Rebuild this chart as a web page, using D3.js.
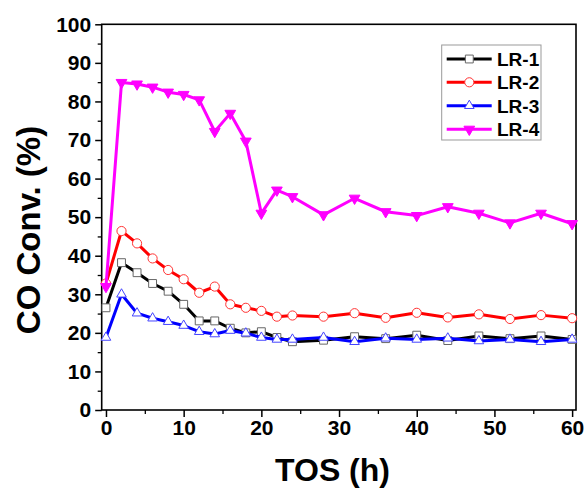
<!DOCTYPE html>
<html><head><meta charset="utf-8">
<script src="https://cdn.jsdelivr.net/npm/d3@7"></script>
<style>body{margin:0;background:#fff}svg{display:block}text{font-family:"Liberation Sans",Arial,sans-serif;font-weight:bold}</style>
</head><body>
<svg id="c" width="588" height="489"></svg>
<script>
const time = [0,2,4,6,8,10,12,14,16,18,20,22,24,28,32,36,40,44,48,52,56,60];
const lr1 = [26.5,38.2,35.6,32.8,30.8,27.4,23.1,23.1,21.2,20.0,20.3,18.8,17.7,18.1,19.0,18.5,19.4,18.0,19.2,18.5,19.2,18.3];
const lr2 = [32.8,46.4,43.2,39.3,36.3,33.9,30.4,32.0,27.4,26.5,25.7,24.2,24.5,24.2,25.1,23.9,25.2,24.0,24.8,23.6,24.6,23.8];
const lr3 = [18.8,30.0,25.1,23.8,22.9,21.9,20.3,19.7,20.6,19.9,18.8,18.3,18.3,18.8,17.7,18.6,18.3,18.6,17.9,18.3,17.7,18.3];
const lr4 = [32.0,84.9,84.5,83.7,82.4,81.8,80.4,72.2,76.9,69.7,51.0,57.0,55.3,50.6,54.9,51.4,50.4,52.7,51.0,48.5,51.0,48.3];
const seriesNames = ["LR-1","LR-2","LR-3","LR-4"];
const xTicks = [0,10,20,30,40,50,60];
const yTicks = [0,10,20,30,40,50,60,70,80,90,100];

const svg = d3.select("#c");
const L=101.7, R=576, T=24.3, B=410;
const x = d3.scaleLinear().domain([-0.55,60.5]).range([L,R]);
const y = d3.scaleLinear().domain([0,100]).range([B,T]);

svg.append("rect").attr("x",L).attr("y",T).attr("width",R-L).attr("height",B-T)
  .attr("fill","none").attr("stroke","#000").attr("stroke-width",1.6);

const yMinor = d3.range(5,100,10);
svg.append("g").attr("transform",`translate(${L},0)`)
  .call(d3.axisLeft(y).tickValues(yMinor).tickSize(4).tickFormat("").tickSizeOuter(0))
  .call(g=>{g.select(".domain").remove();g.selectAll("line").attr("stroke-width",1.3);});
const xMinor = d3.range(5,60,10);
svg.append("g").attr("transform",`translate(0,${B})`)
  .call(d3.axisBottom(x).tickValues(xMinor).tickSize(4).tickFormat("").tickSizeOuter(0))
  .call(g=>{g.select(".domain").remove();g.selectAll("line").attr("stroke-width",1.3);});

svg.append("g").attr("transform",`translate(${L},0)`)
  .call(d3.axisLeft(y).tickValues(yTicks).tickSize(6.5).tickPadding(4).tickSizeOuter(0))
  .call(g=>{g.select(".domain").remove();g.selectAll("line").attr("stroke-width",1.5);
    g.selectAll("text").attr("font-size",21).attr("fill","#000").attr("font-family","Liberation Sans, Arial, sans-serif").attr("font-weight","bold");});
svg.append("g").attr("transform",`translate(0,${B})`)
  .call(d3.axisBottom(x).tickValues(xTicks).tickSize(7).tickPadding(3).tickSizeOuter(0))
  .call(g=>{g.select(".domain").remove();g.selectAll("line").attr("stroke-width",1.5);
    g.selectAll("text").attr("font-size",21).attr("fill","#000").attr("font-family","Liberation Sans, Arial, sans-serif").attr("font-weight","bold");});

svg.append("text").attr("x",332.5).attr("y",481).attr("text-anchor","middle")
  .attr("font-size",32).text("TOS (h)");
svg.append("text").attr("transform","translate(40,230) rotate(-90)").attr("text-anchor","middle")
  .attr("font-size",33).text("CO Conv. (%)");

const styles = [
  {vals:lr1,color:"#000",type:d3.symbolSquare,size:62,fill:"#fff",mstroke:"#666",rot:0},
  {vals:lr2,color:"#ff0000",type:d3.symbolCircle,size:66,fill:"#fff",mstroke:"#ff3333",rot:0},
  {vals:lr3,color:"#0000ff",type:d3.symbolTriangle,size:40,fill:"#fff",mstroke:"#4444ff",rot:0},
  {vals:lr4,color:"#ff00ff",type:d3.symbolTriangle,size:50,fill:"#ff00ff",mstroke:"#ff00ff",rot:180}
];
const line = d3.line().x(d=>x(d[0])).y(d=>y(d[1]));
styles.forEach(s=>{
  const pts = time.map((t,i)=>[t,s.vals[i]]);
  svg.append("path").datum(pts).attr("d",line).attr("fill","none")
    .attr("stroke",s.color).attr("stroke-width",3).attr("stroke-linejoin","round");
  svg.append("g").selectAll("path").data(pts).join("path")
    .attr("transform",d=>`translate(${x(d[0])},${y(d[1])}) rotate(${s.rot})`)
    .attr("d",d3.symbol().type(s.type).size(s.size))
    .attr("fill",s.fill).attr("stroke",s.mstroke).attr("stroke-width",1);
});

const lg = svg.append("g");
lg.append("rect").attr("x",441.7).attr("y",45).attr("width",99.3).attr("height",95)
  .attr("fill","#fff").attr("stroke","#999").attr("stroke-width",1);
const rows=[59,82.3,105.7,129.3];
styles.forEach((s,i)=>{
  lg.append("line").attr("x1",446.7).attr("x2",491.7).attr("y1",rows[i]).attr("y2",rows[i])
    .attr("stroke",s.color).attr("stroke-width",3);
  lg.append("path").attr("transform",`translate(469.3,${rows[i]}) rotate(${s.rot})`)
    .attr("d",d3.symbol().type(s.type).size(s.size)).attr("fill",s.fill).attr("stroke",s.mstroke).attr("stroke-width",1);
  lg.append("text").attr("x",497).attr("y",rows[i]).attr("dy","0.36em").attr("font-size",19).text(seriesNames[i]);
});
</script>
</body></html>
